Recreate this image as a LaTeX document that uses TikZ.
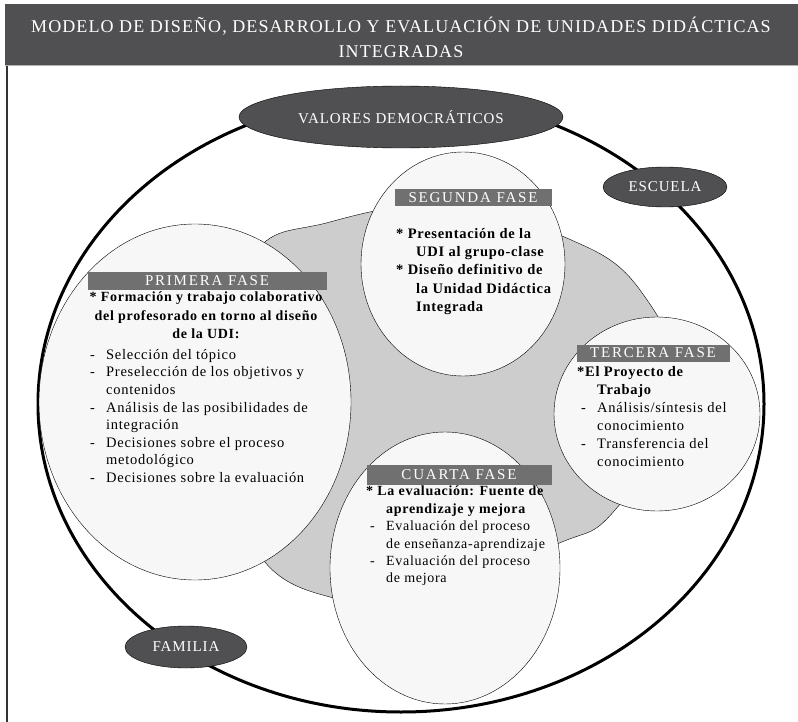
\documentclass[tikz,border=0pt]{standalone}
\usepackage{fontspec}
\setmainfont[LetterSpace=5]{Liberation Serif}
\newfontfamily\capsfont[LetterSpace=12]{Liberation Serif}
\newfontfamily\titlefont[LetterSpace=6]{Liberation Serif}
\usetikzlibrary{shapes.geometric}

\definecolor{bandgray}{RGB}{80,80,82}
\definecolor{bargray}{RGB}{112,112,112}
\definecolor{blobgray}{RGB}{205,205,205}
\definecolor{circgray}{RGB}{247,247,247}

\newcommand{\itm}{\makebox[20pt][l]{\hspace{4pt}-}}
\newcommand{\cont}{\hspace*{20pt}}

\begin{document}
\begin{tikzpicture}[x=1pt,y=-1pt,
    body/.style={font=\fontsize{14.5}{17.6}\selectfont,inner sep=0pt,align=left,anchor=north west},
    phasebar/.style={fill=bargray,text=white,inner sep=0pt,font=\capsfont\fontsize{15}{16}\selectfont},
    darkoval/.style={ellipse,fill=bandgray,draw=black,thin,text=white,inner sep=0pt,font=\titlefont\fontsize{15}{16}\selectfont},
    phase/.style={ellipse,fill=circgray,draw=black,thin,inner sep=0pt}]
  \useasboundingbox (0,0) rectangle (798,722);

  % title band and frame
  \fill[bandgray] (5,4) rectangle (798,66);
  \draw[gray!60,line width=1pt] (5,66) -- (798,66);
  \draw[black!80,line width=1.5pt] (7,66) -- (7,722);
  \node[text=white,align=center,font=\titlefont\fontsize{18}{25}\selectfont] (title) at (401,37)
    {MODELO DE DISEÑO, DESARROLLO Y EVALUACIÓN DE UNIDADES DIDÁCTICAS\\INTEGRADAS};

  % school ring and shaded core
  \node[ellipse,draw,line width=3pt,minimum width=726,minimum height=616] (ring) at (401,404) {};
  \filldraw[fill=blobgray,draw=black,thin] plot[smooth cycle,tension=0.7] coordinates
    {(250,260) (330,222) (450,205) (560,235) (640,290) (680,400) (615,510) (555,545)
     (440,590) (330,597) (250,540) (220,400)};

  % the four phases
  \begin{scope}
    \node[phase,minimum width=312,minimum height=356] (primera) at (195,402) {};
    \node[phase,minimum width=204,minimum height=224] (segunda) at (463,264) {};
    \node[phase,minimum width=206,minimum height=194] (tercera) at (657,414) {};
    \node[phase,minimum width=230,minimum height=272] (cuarta) at (445,568) {};
  \end{scope}

  % contexts
  \node[darkoval,minimum width=324,minimum height=62] (valores) at (401,117) {VALORES DEMOCRÁTICOS};
  \node[darkoval,minimum width=124,minimum height=40] (escuela) at (665,187) {ESCUELA};
  \node[darkoval,minimum width=122,minimum height=42] (familia) at (186,647) {FAMILIA};

  % phase headings
  \node[phasebar,minimum width=239,minimum height=18] (bar1) at (207,281) {PRIMERA FASE};
  \node[phasebar,minimum width=157,minimum height=17] (bar2) at (473,198) {SEGUNDA FASE};
  \node[phasebar,minimum width=153,minimum height=17] (bar3) at (653,353) {TERCERA FASE};
  \node[phasebar,minimum width=185,minimum height=20] (bar4) at (459,475) {CUARTA FASE};

  % phase contents
  \node[body,align=center,anchor=north,font=\bfseries\fontsize{14}{18.3}\selectfont] (lead1) at (206,292)
    {* Formación y trabajo colaborativo\\del profesorado en torno al diseño\\de la UDI:};
  \node[body] (list1) at (86,349)
    {\itm Selección del tópico\\
     \itm Preselección de los objetivos y\\\cont contenidos\\
     \itm Análisis de las posibilidades de\\\cont integración\\
     \itm Decisiones sobre el proceso\\\cont metodológico\\
     \itm Decisiones sobre la evaluación};
  \node[body,font=\bfseries\fontsize{14.5}{18.3}\selectfont] (list2) at (396,228)
    {* Presentación de la\\\cont UDI al grupo-clase\\
     * Diseño definitivo de\\\cont la Unidad Didáctica\\\cont Integrada};
  \node[body,font=\fontsize{14.5}{18}\selectfont] (list3) at (577,366)
    {\textbf{*El Proyecto de}\\\cont\textbf{Trabajo}\\
     \itm Análisis/síntesis del\\\cont conocimiento\\
     \itm Transferencia del\\\cont conocimiento};
  \node[body,font=\fontsize{14}{17.4}\selectfont] (list4) at (366,486)
    {\textbf{* La evaluación: Fuente de}\\\cont\textbf{aprendizaje y mejora}\\
     \itm Evaluación del proceso\\\cont de enseñanza-aprendizaje\\
     \itm Evaluación del proceso\\\cont de mejora};
\end{tikzpicture}
\end{document}
